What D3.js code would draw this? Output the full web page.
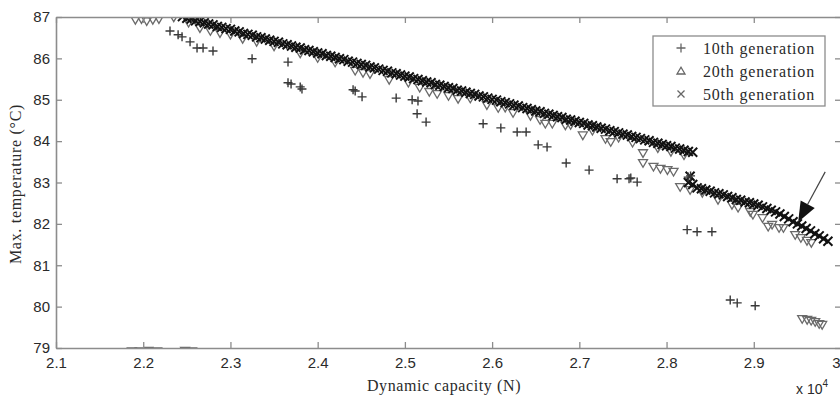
<!DOCTYPE html>
<html>
<head>
<meta charset="utf-8">
<script src="https://cdn.jsdelivr.net/npm/d3@7"></script>
<style>
  body { margin: 0; background: #fff; }
  .tick text { font-family: "Liberation Sans", Arial, sans-serif; font-size: 15px; fill: #2a2a2a; }
  .serif { font-family: "Liberation Serif", "Times New Roman", serif; fill: #2a2a2a; }
</style>
</head>
<body>
<div id="chart"></div>
<script>
const xTicks = [2.1, 2.2, 2.3, 2.4, 2.5, 2.6, 2.7, 2.8, 2.9, 3.0];
const yTicks = [79, 80, 81, 82, 83, 84, 85, 86, 87];
const seriesNames = ['10th generation', '20th generation', '50th generation'];

// 10th generation (+)
const gen10 = [
  [2.2307, 86.66], [2.240, 86.57], [2.2445, 86.52], [2.2537, 86.40], [2.2617, 86.25],
  [2.2686, 86.25], [2.280, 86.18], [2.3248, 85.99], [2.366, 85.91], [2.366, 85.41],
  [2.3695, 85.38], [2.380, 85.31], [2.382, 85.26], [2.4406, 85.24], [2.443, 85.21],
  [2.4509, 85.07], [2.490, 85.04], [2.5083, 85.00], [2.515, 84.97], [2.514, 84.66],
  [2.5243, 84.46], [2.5897, 84.42], [2.610, 84.32], [2.6287, 84.22], [2.639, 84.22],
  [2.6528, 83.91], [2.663, 83.86], [2.6849, 83.47], [2.7112, 83.30], [2.7433, 83.09],
  [2.757, 83.09], [2.759, 83.11], [2.7663, 83.01], [2.8248, 83.13], [2.8275, 83.16],
  [2.8236, 81.86], [2.835, 81.81], [2.852, 81.81], [2.873, 80.16], [2.881, 80.09],
  [2.9016, 80.02]
];

// 20th generation (triangles)
const gen20 = [
  [2.191, 86.93], [2.198, 86.95], [2.204, 86.90], [2.211, 86.93], [2.218, 86.95],
  [2.187, 78.92], [2.196, 78.92], [2.206, 78.93], [2.216, 78.92], [2.248, 78.93], [2.256, 78.92],
  [2.235, 86.99], [2.252, 86.86], [2.265, 86.73], [2.277, 86.66], [2.288, 86.61],
  [2.300, 86.57], [2.314, 86.47], [2.330, 86.40], [2.350, 86.29], [2.380, 86.12],
  [2.400, 86.01], [2.420, 85.90], [2.443, 85.70], [2.452, 85.65], [2.460, 85.62],
  [2.482, 85.48], [2.504, 85.41], [2.517, 85.29], [2.528, 85.19], [2.537, 85.14],
  [2.550, 85.09], [2.561, 85.02], [2.575, 85.03], [2.594, 84.87], [2.607, 84.80],
  [2.615, 84.81], [2.624, 84.68], [2.644, 84.61], [2.655, 84.51], [2.661, 84.42],
  [2.669, 84.42], [2.684, 84.38], [2.690, 84.39], [2.704, 84.14], [2.715, 84.25],
  [2.730, 84.05], [2.736, 83.98], [2.745, 84.08], [2.761, 83.96], [2.773, 83.71],
  [2.790, 83.83], [2.805, 83.74], [2.820, 83.66],
  [2.773, 83.47], [2.785, 83.38], [2.793, 83.33], [2.801, 83.30], [2.808, 83.26],
  [2.8156, 82.89], [2.827, 82.82], [2.841, 82.75], [2.859, 82.58], [2.875, 82.46],
  [2.882, 82.39], [2.896, 82.29], [2.899, 82.22], [2.910, 82.14], [2.9165, 81.93],
  [2.921, 81.98], [2.929, 81.90], [2.934, 81.90], [2.9475, 81.73], [2.954, 81.66],
  [2.961, 81.59], [2.966, 81.54],
  [2.9555, 79.70], [2.9612, 79.68], [2.9658, 79.66], [2.9704, 79.63], [2.975, 79.58], [2.9784, 79.56]
];

// 50th generation (x) - two dense fronts
const gen50 = [
  [2.245, 87.01], [2.250, 86.97], [2.255, 86.95], [2.260, 86.91], [2.265, 86.89],
  [2.270, 86.86], [2.275, 86.83], [2.280, 86.81], [2.285, 86.77], [2.290, 86.75],
  [2.295, 86.72], [2.300, 86.70], [2.305, 86.66], [2.310, 86.64], [2.315, 86.60],
  [2.320, 86.58], [2.325, 86.56], [2.330, 86.52], [2.335, 86.50], [2.340, 86.47],
  [2.345, 86.44], [2.350, 86.41], [2.355, 86.39], [2.360, 86.35], [2.365, 86.33],
  [2.370, 86.30], [2.375, 86.27], [2.380, 86.25], [2.385, 86.21], [2.390, 86.19],
  [2.395, 86.16], [2.400, 86.13], [2.405, 86.11], [2.410, 86.07], [2.415, 86.05],
  [2.420, 86.02], [2.425, 85.99], [2.430, 85.97], [2.435, 85.93], [2.440, 85.91],
  [2.445, 85.88], [2.450, 85.85], [2.455, 85.83], [2.460, 85.79], [2.465, 85.77],
  [2.470, 85.74], [2.475, 85.71], [2.480, 85.69], [2.485, 85.65], [2.490, 85.63],
  [2.495, 85.60], [2.500, 85.57], [2.505, 85.55], [2.510, 85.51], [2.515, 85.49],
  [2.520, 85.46], [2.525, 85.43], [2.530, 85.41], [2.535, 85.37], [2.540, 85.35],
  [2.545, 85.32], [2.550, 85.29], [2.555, 85.27], [2.560, 85.23], [2.565, 85.21],
  [2.570, 85.18], [2.575, 85.15], [2.580, 85.13], [2.585, 85.09], [2.590, 85.07],
  [2.595, 85.04], [2.600, 85.01], [2.605, 84.99], [2.610, 84.95], [2.615, 84.93],
  [2.620, 84.90], [2.625, 84.87], [2.630, 84.85], [2.635, 84.81], [2.640, 84.79],
  [2.645, 84.76], [2.650, 84.73], [2.655, 84.71], [2.660, 84.67], [2.665, 84.65],
  [2.670, 84.62], [2.675, 84.59], [2.680, 84.57], [2.685, 84.53], [2.690, 84.51],
  [2.695, 84.48], [2.700, 84.45], [2.705, 84.43], [2.710, 84.39], [2.715, 84.37],
  [2.720, 84.34], [2.725, 84.31], [2.730, 84.29], [2.735, 84.25], [2.740, 84.23],
  [2.745, 84.20], [2.750, 84.17], [2.755, 84.15], [2.760, 84.11], [2.765, 84.09],
  [2.770, 84.06], [2.775, 84.03], [2.780, 84.01], [2.785, 83.97], [2.790, 83.95],
  [2.795, 83.92], [2.800, 83.89], [2.805, 83.87], [2.810, 83.83], [2.815, 83.81],
  [2.820, 83.78], [2.825, 83.75], [2.830, 83.73],
  [2.825, 83.00], [2.830, 82.95], [2.835, 82.87], [2.840, 82.85], [2.845, 82.82],
  [2.850, 82.79], [2.855, 82.75], [2.860, 82.73], [2.865, 82.70], [2.870, 82.66],
  [2.875, 82.63], [2.880, 82.59], [2.885, 82.57], [2.890, 82.53], [2.895, 82.51],
  [2.900, 82.48], [2.905, 82.45], [2.910, 82.41], [2.915, 82.37], [2.920, 82.33],
  [2.925, 82.29], [2.930, 82.24], [2.935, 82.18], [2.940, 82.12], [2.945, 82.05],
  [2.950, 82.00], [2.955, 81.95], [2.960, 81.89], [2.965, 81.83], [2.970, 81.76],
  [2.975, 81.71], [2.980, 81.64], [2.985, 81.58], [2.827, 83.15]
];

// arrow annotation: tail, tip
const arrowPts = [[2.9819, 83.256], [2.9509, 82.048]];

const width = 840, height = 397;
const plot = { left: 56, right: 841, top: 17, bottom: 348 };

const svg = d3.select('#chart').append('svg')
  .attr('width', width)
  .attr('height', height);

const x = d3.scaleLinear().domain([2.1, 3.0]).range([plot.left, plot.right]);
const y = d3.scaleLinear().domain([79, 87]).range([plot.bottom, plot.top]);

svg.append('clipPath').attr('id', 'clip')
  .append('rect')
  .attr('x', plot.left).attr('y', plot.top)
  .attr('width', plot.right - plot.left).attr('height', plot.bottom - plot.top);

const plusPath = s => `M${-s},0H${s}M0,${-s}V${s}`;
const timesPath = s => `M${-s},${-s}L${s},${s}M${-s},${s}L${s},${-s}`;
const triDown = s => `M${-s},${-s * 0.75}L${s},${-s * 0.75}L0,${s * 0.95}Z`;
const triUp = s => `M${-s},${s * 0.75}L${s},${s * 0.75}L0,${-s * 0.95}Z`;

const marks = svg.append('g').attr('clip-path', 'url(#clip)');

marks.append('g')
  .selectAll('path')
  .data(gen20)
  .enter().append('path')
  .attr('transform', d => `translate(${x(d[0])},${y(d[1])})`)
  .attr('d', triDown(4.5))
  .attr('fill', 'none')
  .attr('stroke', '#6a6a6a')
  .attr('stroke-width', 1.3);

marks.append('g')
  .selectAll('path')
  .data(gen50)
  .enter().append('path')
  .attr('transform', d => `translate(${x(d[0])},${y(d[1])})`)
  .attr('d', timesPath(4.5))
  .attr('fill', 'none')
  .attr('stroke', '#111')
  .attr('stroke-width', 2);

marks.append('g')
  .selectAll('path')
  .data(gen10)
  .enter().append('path')
  .attr('transform', d => `translate(${x(d[0])},${y(d[1])})`)
  .attr('d', plusPath(4.5))
  .attr('fill', 'none')
  .attr('stroke', '#383838')
  .attr('stroke-width', 1.4);

// Axes on all four sides, ticks pointing inward
const axisColor = '#8c8c8c';
const styleAxis = g => {
  g.select('.domain').attr('stroke', axisColor).attr('stroke-width', 1.6);
  g.selectAll('.tick line').attr('stroke', axisColor).attr('stroke-width', 1.3);
};

svg.append('g')
  .attr('transform', `translate(0,${plot.bottom})`)
  .call(d3.axisBottom(x).tickValues(xTicks).tickSize(-6).tickSizeOuter(0).tickPadding(9).tickFormat(d => String(+d.toFixed(1))))
  .call(styleAxis)
  .call(g => g.selectAll('.tick text').attr('font-family', null).attr('font-size', null))
  // the last label sits on the window edge, keep it inside
  .call(g => g.selectAll('.tick text').filter(d => d === 3.0).attr('text-anchor', 'end').attr('x', -1));

svg.append('g')
  .attr('transform', `translate(${plot.left},0)`)
  .call(d3.axisLeft(y).tickValues(yTicks).tickSize(-6).tickSizeOuter(0).tickPadding(6))
  .call(styleAxis)
  .call(g => g.selectAll('.tick text').attr('font-family', null).attr('font-size', null));

svg.append('g')
  .attr('transform', `translate(0,${plot.top})`)
  .call(d3.axisTop(x).tickValues(xTicks).tickSize(-6).tickSizeOuter(0).tickFormat(''))
  .call(styleAxis);

svg.append('g')
  .attr('transform', `translate(${plot.right},0)`)
  .call(d3.axisRight(y).tickValues(yTicks).tickSize(-6).tickSizeOuter(0).tickFormat(''))
  .call(styleAxis);

// Axis titles
svg.append('text')
  .attr('class', 'serif')
  .attr('x', 444).attr('y', 391)
  .attr('text-anchor', 'middle')
  .style('font-size', '16px')
  .style('letter-spacing', '0.6px')
  .text('Dynamic capacity (N)');

svg.append('text')
  .attr('class', 'serif')
  .attr('transform', 'translate(21,184) rotate(-90)')
  .attr('text-anchor', 'middle')
  .style('font-size', '16px')
  .style('letter-spacing', '0.7px')
  .text('Max. temperature (\u00B0C)');

const exp = svg.append('text')
  .attr('x', 796).attr('y', 394)
  .style('font-family', '"Liberation Sans", Arial, sans-serif')
  .style('font-size', '14px')
  .attr('fill', '#2a2a2a')
  .text('x 10');
exp.append('tspan').attr('dy', -7).style('font-size', '10px').text('4');

// Arrow
const tail = [x(arrowPts[0][0]), y(arrowPts[0][1])];
const tip = [x(arrowPts[1][0]), y(arrowPts[1][1])];
const dx = tail[0] - tip[0], dy = tail[1] - tip[1];
const len = Math.hypot(dx, dy);
const ux = dx / len, uy = dy / len;
const headLen = 20, headW = 8;
const base = [tip[0] + ux * headLen, tip[1] + uy * headLen];

svg.append('line')
  .attr('x1', tail[0]).attr('y1', tail[1])
  .attr('x2', base[0]).attr('y2', base[1])
  .attr('stroke', '#444').attr('stroke-width', 1.2);

svg.append('path')
  .attr('d', `M${tip[0]},${tip[1]}L${base[0] - uy * headW},${base[1] + ux * headW}L${base[0] + uy * headW},${base[1] - ux * headW}Z`)
  .attr('fill', '#111');

// Legend
const legend = svg.append('g');
legend.append('rect')
  .attr('x', 653).attr('y', 36)
  .attr('width', 172).attr('height', 70)
  .attr('fill', '#fff')
  .attr('stroke', axisColor)
  .attr('stroke-width', 1.3);

const legendMarks = [plusPath(4.5), triUp(4), timesPath(3.5)];
seriesNames.forEach((name, i) => {
  const ry = 48 + i * 23;
  legend.append('path')
    .attr('transform', `translate(681,${ry})`)
    .attr('d', legendMarks[i])
    .attr('fill', 'none')
    .attr('stroke', '#666')
    .attr('stroke-width', 1.3);
  legend.append('text')
    .attr('class', 'serif')
    .attr('x', 703).attr('y', ry)
    .attr('dy', '0.35em')
    .style('font-size', '16px')
    .style('letter-spacing', '0.8px')
    .text(name);
});
</script>
</body>
</html>
